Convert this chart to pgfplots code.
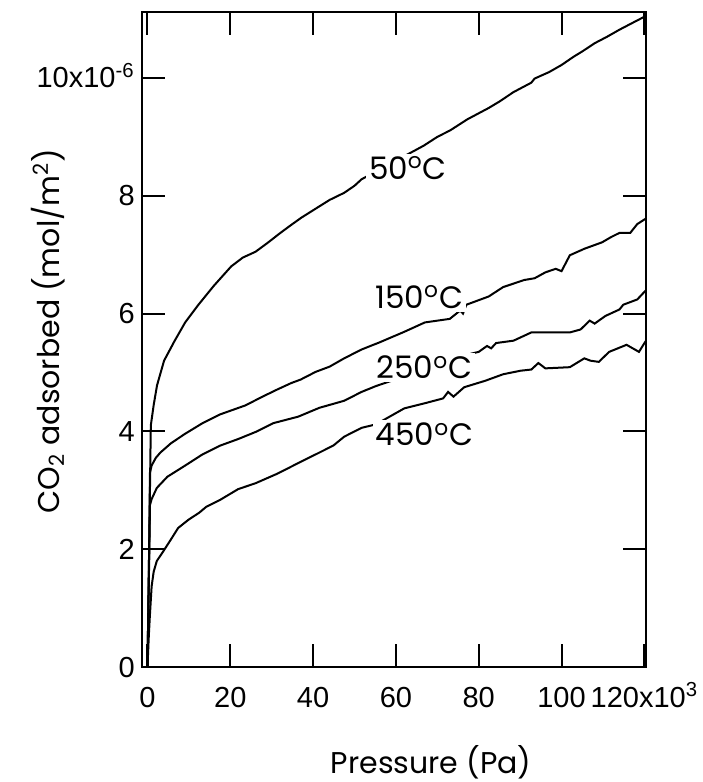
\documentclass[border=0pt]{standalone}
\usepackage{fontspec}
\setmainfont{Liberation Sans}
\newfontfamily\geo{Poppins}
\usepackage{pgfplots}
\pgfplotsset{compat=1.18}

\pgfplotstableread{
x y
0 0
0.5 2.5
0.8 4.1
1.5 4.45
2.3 4.78
4.0 5.2
6.5 5.53
9.1 5.85
12.3 6.15
16.0 6.47
20.2 6.8
23.0 6.95
26.1 7.05
29.0 7.2
32.1 7.37
35.0 7.52
37.2 7.63
41.5 7.82
44.0 7.93
47.5 8.05
50.0 8.17
51.7 8.28
66.7 8.85
70.0 9.0
73.1 9.11
77.3 9.3
82.4 9.49
85.0 9.6
88.4 9.76
92.7 9.92
93.5 9.99
97.0 10.1
100.0 10.22
102.9 10.36
105.0 10.45
108.0 10.59
111.0 10.7
114.0 10.82
117.0 10.93
120.3 11.05
}\tfifty

\pgfplotstableread{
x y
0 0
0.4 2.0
0.6 3.3
1.0 3.42
2.0 3.55
3.1 3.64
5.7 3.80
9.1 3.96
13.3 4.14
17.6 4.29
20.0 4.35
23.6 4.44
27.8 4.59
31.0 4.7
34.7 4.82
37.0 4.88
40.6 5.01
44.0 5.1
47.5 5.24
51.7 5.39
56.0 5.51
62.0 5.69
67.0 5.85
73.0 5.91
75.5 6.05
76.2 6.0
77.0 6.15
82.4 6.29
85.9 6.45
91.0 6.57
93.5 6.6
96.1 6.70
98.6 6.76
100.0 6.72
102.0 6.99
105.5 7.10
109.8 7.21
112.0 7.3
114.0 7.37
116.6 7.37
118.3 7.52
120.3 7.61
}\tonefifty

\pgfplotstableread{
x y
0 0
0.4 1.8
0.6 2.75
1.0 2.85
2.25 3.04
4.8 3.23
9.1 3.42
13.3 3.61
17.6 3.76
21.9 3.87
26.1 3.99
30.4 4.14
36.4 4.25
41.5 4.40
47.5 4.52
51.7 4.67
55.2 4.77
78.2 5.32
80.0 5.35
82.0 5.45
83.0 5.41
84.2 5.50
88.4 5.54
92.7 5.68
97.8 5.68
102.0 5.68
104.6 5.73
106.8 5.88
108.0 5.83
110.6 5.96
114.0 6.07
114.9 6.15
118.3 6.24
120.3 6.39
}\ttwofifty

\pgfplotstableread{
x y
0 0
0.3 0.5
0.55 0.84
1.0 1.37
1.5 1.62
2.25 1.8
3.96 1.98
5.7 2.17
7.4 2.36
9.9 2.5
12.5 2.62
14.2 2.72
17.6 2.84
21.9 3.02
26.1 3.12
31.3 3.28
37.2 3.49
41.5 3.64
44.9 3.76
47.5 3.91
51.7 4.06
55.2 4.12
62.0 4.39
67.1 4.48
71.4 4.56
72.6 4.67
73.9 4.59
76.5 4.75
81.6 4.86
85.9 4.97
90.1 5.03
92.7 5.05
94.4 5.16
96.1 5.07
102.0 5.09
105.5 5.24
107.0 5.2
109.0 5.18
111.5 5.35
115.7 5.47
118.7 5.35
120.3 5.53
}\tfourfifty

\begin{document}
\begin{tikzpicture}
\useasboundingbox (-70.85pt,-57.5pt) rectangle (280.15pt,333.5pt);
\begin{axis}[
width=252.15pt, height=327.5pt, scale only axis,
xmin=-1.4, xmax=120.4, ymin=0, ymax=11.12,
xtick={0,20,40,60,80,100,120},
xticklabels={0,20,40,60,80,100,120x10\textsuperscript{3}},
ytick={0,2,4,6,8,10},
yticklabels={0,2,4,6,8,10x10\textsuperscript{-6}},
/pgf/number format/assume math mode=true,
major tick length=11.5pt,
tick style={line width=1pt, black},
axis line style={line width=1pt},
tick label style={font=\fontsize{14.5}{16}\selectfont},
xticklabel style={anchor=base, yshift=-20pt},
yticklabel style={anchor=base east, yshift=-5pt},
label style={font=\geo\fontsize{15}{18}\selectfont},
xlabel={Pressure (Pa)},
ylabel={CO\textsubscript{2} adsorbed (mol/m\textsuperscript{2})},
xlabel style={at={(axis description cs:0.574,-0.1458)}, anchor=center},
ylabel style={at={(axis description cs:-0.186,0.513)}, anchor=center},
]
\addplot[black, line width=1pt, no marks] table {\tfifty};
\addplot[black, line width=1pt, no marks] table {\tonefifty};
\addplot[black, line width=1pt, no marks] table {\ttwofifty};
\addplot[black, line width=1pt, no marks] table {\tfourfifty};
\begin{scope}[every node/.style={fill=white, inner sep=1.5pt, font=\geo\fontsize{15.5}{18}\selectfont}]
\node at (axis cs:62.9,8.47) {50\textsuperscript{o}C};
\node at (axis cs:65.6,6.28) {150\textsuperscript{o}C};
\node at (axis cs:66.9,5.09) {250\textsuperscript{o}C};
\node at (axis cs:66.9,3.95) {450\textsuperscript{o}C};
\end{scope}
\end{axis}
\end{tikzpicture}
\end{document}
